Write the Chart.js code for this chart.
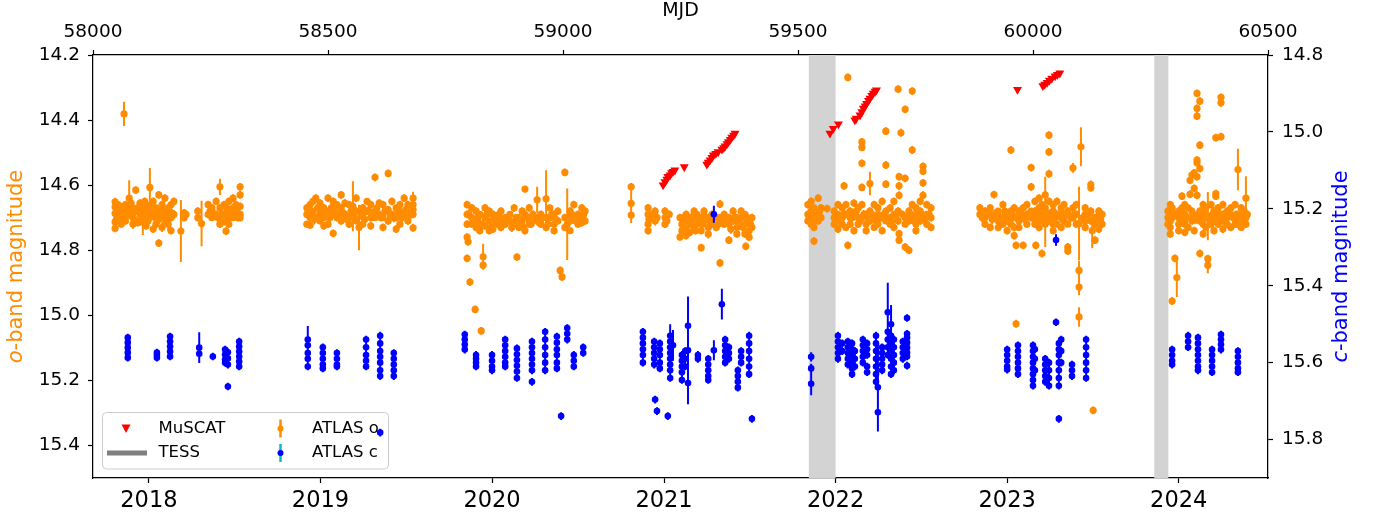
<!DOCTYPE html>
<html>
<head>
<meta charset="utf-8">
<title>ATLAS light curve</title>
<script src="https://cdn.jsdelivr.net/npm/chart.js@4.4.1/dist/chart.umd.min.js"></script>
<style>
  body { margin: 0; background: #fff; }
  .chart-box { width: 1383px; height: 521px; position: relative; }
</style>
</head>
<body>
<div class="chart-box"><canvas id="lcChart"></canvas></div>
<script>
// axis ticks
const mjdTicks = [58000, 58500, 59000, 59500, 60000, 60500];
const yearLabels = [2018, 2019, 2020, 2021, 2022, 2023, 2024];
const yearMjd = [58119, 58484, 58849, 59215, 59580, 59945, 60310];
const oTicks = [14.2, 14.4, 14.6, 14.8, 15.0, 15.2, 15.4];
const cTicks = [14.8, 15.0, 15.2, 15.4, 15.6, 15.8];

// TESS sectors (MJD)
const tessStart = [59523, 60258];
const tessEnd = [59580, 60288];

// MuSCAT points
const muscatMjd = [59213, 59217, 59221, 59223, 59228, 59231, 59234, 59238, 59258,
    59306, 59309, 59313, 59317, 59320, 59325, 59330, 59338, 59342, 59345, 59349, 59352, 59356, 59359, 59363, 59366,
    59568, 59575, 59586, 59621, 59624, 59632, 59636, 59639, 59643, 59646, 59650, 59653, 59657, 59660, 59664, 59667,
    59967, 60021, 60025, 60030, 60035, 60040, 60047, 60052, 60057];
const muscatMag = [14.600, 14.590, 14.582, 14.574, 14.569, 14.562, 14.558, 14.554, 14.544,
    14.536, 14.530, 14.523, 14.515, 14.508, 14.503, 14.498, 14.490, 14.485, 14.480, 14.473, 14.467, 14.460, 14.453, 14.447, 14.441,
    14.441, 14.426, 14.412, 14.400, 14.395, 14.385, 14.375, 14.364, 14.357, 14.349, 14.340, 14.333, 14.325, 14.318, 14.312, 14.308,
    14.306, 14.295, 14.290, 14.285, 14.278, 14.272, 14.265, 14.260, 14.256];

// ATLAS o band: [mjd, mag, err]
const oSeason1 = [
    [58047,14.651,0.012],[58047,14.667,0.010],[58047,14.687,0.012],[58047,14.713,0.015],[58047,14.733,0.012],
    [58053,14.660,0.010],[58053,14.700,0.014],[58060,14.680,0.012],[58060,14.720,0.010],
    [58066,14.381,0.037],[58072,14.676,0.012],[58072,14.694,0.015],[58077,14.640,0.055],
    [58085,14.670,0.012],[58085,14.700,0.010],[58085,14.720,0.014],[58091,14.615,0.012],[58091,14.680,0.012],
    [58100,14.655,0.012],[58100,14.690,0.010],[58100,14.710,0.015],[58106,14.665,0.012],[58106,14.713,0.040],
    [58113,14.660,0.010],[58113,14.680,0.012],[58113,14.725,0.012],
    [58121,14.607,0.060],[58121,14.680,0.012],[58121,14.700,0.010],
    [58128,14.650,0.012],[58128,14.690,0.014],[58128,14.735,0.012],
    [58134,14.670,0.010],[58134,14.700,0.012],[58134,14.720,0.012],
    [58140,14.778,0.012],[58140,14.630,0.012],[58140,14.690,0.010],
    [58147,14.660,0.012],[58147,14.700,0.012],[58147,14.730,0.014],
    [58153,14.640,0.012],[58153,14.680,0.010],[58153,14.710,0.012],
    [58160,14.670,0.012],[58160,14.720,0.020],
    [58166,14.660,0.010],[58166,14.700,0.012],[58166,14.740,0.012],
    [58172,14.650,0.012],[58172,14.690,0.014],
    [58187,14.741,0.095],[58194,14.685,0.012],[58194,14.700,0.012],[58198,14.690,0.010],
    [58223,14.680,0.012],[58223,14.700,0.012],[58231,14.718,0.070],
    [58245,14.660,0.012],[58245,14.690,0.012],
    [58253,14.670,0.012],[58253,14.700,0.010],[58253,14.680,0.012],
    [58262,14.650,0.012],[58262,14.690,0.012],
    [58270,14.605,0.025],[58270,14.670,0.012],[58270,14.700,0.010],[58270,14.720,0.012],
    [58279,14.660,0.012],[58279,14.690,0.012],[58279,14.710,0.014],[58283,14.741,0.012],
    [58289,14.650,0.012],[58289,14.680,0.010],[58289,14.700,0.012],[58289,14.720,0.012],
    [58298,14.640,0.012],[58298,14.670,0.012],[58298,14.700,0.010],
    [58304,14.660,0.012],[58304,14.690,0.012],
    [58313,14.605,0.012],[58313,14.630,0.012],[58313,14.665,0.012],[58313,14.690,0.010],[58313,14.700,0.012],
    [58050,14.675,0.012],[58050,14.705,0.015],[58057,14.665,0.012],[58057,14.690,0.010],[58063,14.700,0.016],
    [58069,14.660,0.012],[58069,14.710,0.012],[58081,14.690,0.014],[58081,14.655,0.010],[58088,14.705,0.012],
    [58095,14.670,0.015],[58095,14.715,0.012],[58103,14.680,0.010],[58110,14.695,0.016],[58110,14.650,0.012],
    [58117,14.670,0.012],[58117,14.710,0.015],[58125,14.660,0.012],[58131,14.680,0.010],[58137,14.710,0.016],
    [58144,14.680,0.012],[58150,14.700,0.015],[58157,14.690,0.012],[58163,14.680,0.014],[58169,14.690,0.012],
    [58249,14.680,0.015],[58258,14.690,0.012],[58266,14.700,0.014],[58274,14.690,0.012],[58284,14.670,0.015],
    [58293,14.690,0.012],[58301,14.680,0.016],[58308,14.700,0.012],[58308,14.670,0.012]
];
const oSeason2 = [
    [58455,14.670,0.012],[58455,14.690,0.012],[58455,14.720,0.010],
    [58462,14.660,0.012],[58462,14.700,0.012],[58462,14.723,0.012],
    [58468,14.650,0.012],[58468,14.680,0.010],[58474,14.640,0.012],[58474,14.700,0.012],
    [58483,14.655,0.012],[58483,14.685,0.012],[58483,14.710,0.010],
    [58491,14.670,0.012],[58491,14.700,0.012],[58491,14.725,0.012],
    [58500,14.640,0.012],[58500,14.680,0.010],[58500,14.720,0.012],
    [58511,14.748,0.012],[58511,14.650,0.012],[58511,14.690,0.012],
    [58519,14.660,0.010],[58519,14.700,0.012],
    [58528,14.630,0.012],[58528,14.670,0.012],[58528,14.710,0.012],
    [58536,14.655,0.012],[58536,14.690,0.010],
    [58545,14.660,0.012],[58545,14.700,0.012],[58545,14.720,0.012],
    [58553,14.665,0.077],
    [58560,14.640,0.012],[58560,14.680,0.012],[58560,14.710,0.010],
    [58566,14.730,0.070],
    [58574,14.670,0.012],[58574,14.690,0.012],[58574,14.720,0.012],
    [58583,14.650,0.010],[58583,14.680,0.012],
    [58591,14.660,0.012],[58591,14.700,0.012],[58591,14.725,0.012],
    [58600,14.576,0.012],[58600,14.680,0.012],[58600,14.700,0.010],
    [58609,14.655,0.012],[58609,14.690,0.012],
    [58617,14.660,0.012],[58617,14.700,0.010],[58617,14.730,0.012],
    [58628,14.564,0.012],[58628,14.675,0.012],[58628,14.710,0.012],
    [58636,14.650,0.012],[58636,14.690,0.012],
    [58645,14.670,0.010],[58645,14.700,0.012],[58645,14.735,0.012],
    [58653,14.660,0.012],[58653,14.680,0.012],[58653,14.720,0.010],
    [58662,14.640,0.012],[58662,14.690,0.012],
    [58670,14.660,0.012],[58670,14.700,0.012],[58670,14.710,0.012],
    [58681,14.640,0.020],[58681,14.660,0.012],[58681,14.675,0.012],[58681,14.690,0.012],[58681,14.731,0.012],
    [58458,14.680,0.015],[58465,14.690,0.012],[58471,14.705,0.016],[58478,14.670,0.012],[58487,14.700,0.014],
    [58495,14.690,0.012],[58504,14.700,0.015],[58507,14.670,0.012],[58515,14.680,0.016],[58523,14.690,0.012],
    [58532,14.685,0.014],[58540,14.705,0.012],[58549,14.680,0.015],[58556,14.700,0.012],[58570,14.690,0.016],
    [58578,14.705,0.012],[58587,14.680,0.014],[58596,14.690,0.012],[58604,14.670,0.015],[58613,14.700,0.012],
    [58621,14.680,0.016],[58632,14.690,0.012],[58640,14.700,0.014],[58649,14.680,0.012],[58657,14.700,0.015],
    [58666,14.675,0.012],[58675,14.690,0.016]
];
const oSeason3 = [
    [58796,14.660,0.012],[58796,14.690,0.012],[58796,14.720,0.012],[58796,14.760,0.012],[58796,14.825,0.012],
    [58798,14.774,0.012],[58802,14.898,0.012],[58813,14.982,0.012],[58826,15.048,0.012],
    [58830,14.820,0.040],[58830,14.846,0.012],
    [58806,14.670,0.012],[58806,14.700,0.012],[58806,14.720,0.010],
    [58815,14.680,0.012],[58815,14.710,0.012],[58815,14.730,0.012],
    [58823,14.690,0.010],[58823,14.720,0.012],[58823,14.740,0.012],
    [58834,14.670,0.012],[58834,14.700,0.012],[58834,14.725,0.012],
    [58843,14.680,0.012],[58843,14.710,0.010],[58843,14.740,0.012],
    [58851,14.690,0.012],[58851,14.720,0.012],[58851,14.735,0.012],
    [58860,14.700,0.012],[58860,14.720,0.010],
    [58868,14.680,0.012],[58868,14.710,0.012],[58868,14.730,0.012],
    [58877,14.700,0.012],[58877,14.720,0.012],
    [58887,14.690,0.010],[58887,14.710,0.012],
    [58896,14.670,0.012],[58896,14.720,0.012],[58902,14.821,0.012],
    [58906,14.700,0.012],[58906,14.730,0.010],
    [58913,14.680,0.012],[58913,14.710,0.012],
    [58919,14.612,0.010],[58919,14.690,0.012],[58919,14.740,0.012],
    [58928,14.670,0.012],[58928,14.700,0.012],[58928,14.720,0.010],
    [58936,14.690,0.012],[58936,14.710,0.012],
    [58945,14.645,0.040],[58945,14.700,0.012],
    [58953,14.690,0.012],[58953,14.720,0.012],
    [58964,14.642,0.088],[58964,14.700,0.012],[58964,14.730,0.012],
    [58972,14.670,0.010],[58972,14.700,0.012],
    [58981,14.690,0.012],[58981,14.720,0.012],[58981,14.740,0.012],
    [58989,14.680,0.012],[58989,14.710,0.010],
    [58994,14.862,0.012],[58998,14.882,0.012],
    [59004,14.561,0.012],[59004,14.700,0.012],[59004,14.730,0.012],
    [59009,14.720,0.110],
    [59015,14.680,0.012],[59015,14.710,0.012],[59015,14.740,0.010],
    [59023,14.660,0.012],[59023,14.700,0.012],
    [59032,14.690,0.012],[59032,14.720,0.012],
    [59040,14.670,0.012],[59040,14.700,0.010],[59040,14.715,0.012],
    [59047,14.680,0.012],[59047,14.710,0.012],
    [58800,14.690,0.015],[58810,14.710,0.012],[58819,14.700,0.016],[58828,14.720,0.012],[58838,14.690,0.014],
    [58847,14.730,0.012],[58855,14.705,0.015],[58864,14.690,0.012],[58872,14.720,0.016],[58882,14.705,0.012],
    [58891,14.730,0.014],[58900,14.700,0.012],[58909,14.715,0.015],[58916,14.730,0.012],[58924,14.700,0.016],
    [58932,14.720,0.012],[58940,14.700,0.014],[58949,14.715,0.012],[58957,14.700,0.015],[58968,14.720,0.012],
    [58976,14.690,0.016],[58985,14.705,0.012],[59011,14.700,0.014],[59019,14.690,0.012],[59027,14.710,0.015],
    [59036,14.700,0.012],[59044,14.690,0.016]
];
const oSeason4 = [
    [59145,14.605,0.012],[59145,14.656,0.060],[59145,14.692,0.012],
    [59181,14.670,0.012],[59181,14.690,0.010],[59181,14.720,0.012],[59181,14.740,0.012],
    [59185,14.700,0.012],[59196,14.680,0.012],[59196,14.710,0.014],
    [59217,14.680,0.012],[59217,14.700,0.010],[59217,14.720,0.012],[59226,14.690,0.012],
    [59249,14.759,0.012],[59249,14.700,0.012],[59253,14.720,0.012],[59253,14.740,0.010],
    [59262,14.690,0.012],[59262,14.710,0.012],[59262,14.730,0.014],[59262,14.755,0.012],
    [59270,14.700,0.012],[59270,14.720,0.010],[59270,14.745,0.012],
    [59279,14.680,0.012],[59279,14.710,0.012],[59279,14.730,0.012],
    [59285,14.690,0.010],[59285,14.720,0.012],
    [59294,14.792,0.012],[59294,14.700,0.012],[59294,14.740,0.012],
    [59300,14.680,0.012],[59300,14.710,0.010],
    [59309,14.700,0.012],[59309,14.730,0.012],[59309,14.750,0.014],
    [59317,14.690,0.012],[59317,14.720,0.012],
    [59326,14.700,0.010],[59326,14.730,0.012],
    [59334,14.658,0.012],[59334,14.839,0.012],[59334,14.700,0.012],
    [59343,14.690,0.012],[59343,14.720,0.010],
    [59353,14.769,0.012],[59353,14.700,0.012],[59353,14.720,0.012],
    [59362,14.680,0.012],[59362,14.710,0.012],
    [59370,14.700,0.012],[59370,14.730,0.010],[59370,14.750,0.012],
    [59379,14.680,0.012],[59379,14.700,0.012],
    [59387,14.720,0.012],[59387,14.750,0.012],[59387,14.690,0.010],[59389,14.788,0.012],
    [59396,14.710,0.012],[59396,14.740,0.012],[59396,14.760,0.012],
    [59402,14.700,0.012],[59402,14.730,0.010],
    [59183,14.705,0.015],[59190,14.690,0.012],[59200,14.700,0.016],[59221,14.710,0.012],[59257,14.700,0.014],
    [59266,14.720,0.012],[59274,14.700,0.015],[59282,14.740,0.012],[59289,14.710,0.016],[59297,14.720,0.012],
    [59304,14.700,0.014],[59313,14.710,0.012],[59321,14.700,0.015],[59330,14.720,0.012],[59338,14.710,0.016],
    [59347,14.700,0.012],[59357,14.735,0.014],[59366,14.700,0.012],[59374,14.715,0.015],[59383,14.730,0.012],
    [59392,14.700,0.016],[59399,14.720,0.012]
];
const oSeason5 = [
    [59521,14.660,0.012],[59521,14.690,0.012],[59521,14.710,0.010],
    [59528,14.650,0.012],[59528,14.680,0.012],[59528,14.700,0.012],[59528,14.720,0.012],
    [59534,14.772,0.012],[59534,14.670,0.010],[59534,14.730,0.012],
    [59543,14.640,0.012],[59543,14.690,0.012],[59543,14.710,0.012],
    [59549,14.670,0.012],[59549,14.700,0.010],[59562,14.672,0.012],
    [59577,14.680,0.012],[59577,14.700,0.012],[59577,14.720,0.012],
    [59585,14.660,0.012],[59585,14.690,0.010],[59585,14.710,0.012],[59585,14.735,0.012],
    [59594,14.670,0.012],[59594,14.700,0.012],[59594,14.720,0.012],[59598,14.602,0.012],
    [59602,14.660,0.012],[59602,14.690,0.012],[59602,14.730,0.010],
    [59606,14.269,0.012],[59606,14.785,0.012],
    [59611,14.680,0.012],[59611,14.700,0.012],[59611,14.720,0.012],
    [59619,14.655,0.012],[59619,14.690,0.010],[59619,14.740,0.012],
    [59628,14.670,0.012],[59628,14.700,0.012],[59628,14.720,0.012],
    [59636,14.467,0.012],[59636,14.484,0.012],[59636,14.533,0.012],[59636,14.607,0.012],[59636,14.660,0.012],[59636,14.700,0.010],
    [59645,14.690,0.012],[59645,14.720,0.012],[59645,14.740,0.012],
    [59653,14.595,0.036],[59653,14.680,0.012],[59653,14.710,0.012],
    [59662,14.660,0.012],[59662,14.700,0.012],[59662,14.730,0.010],
    [59670,14.670,0.012],[59670,14.690,0.012],[59670,14.720,0.012],
    [59679,14.650,0.012],[59679,14.700,0.012],[59679,14.740,0.012],
    [59687,14.434,0.012],[59687,14.538,0.012],[59687,14.597,0.012],[59687,14.680,0.012],[59687,14.710,0.010],
    [59696,14.670,0.012],[59696,14.700,0.012],[59696,14.720,0.012],
    [59704,14.650,0.012],[59704,14.690,0.010],[59704,14.730,0.012],
    [59713,14.305,0.012],[59713,14.680,0.012],[59713,14.710,0.012],
    [59715,14.574,0.012],[59715,14.602,0.012],[59715,14.631,0.012],[59715,14.749,0.012],[59715,14.769,0.012],
    [59719,14.439,0.012],
    [59728,14.367,0.012],[59728,14.579,0.012],[59728,14.790,0.012],[59728,14.700,0.012],[59728,14.720,0.010],
    [59736,14.800,0.012],[59736,14.680,0.012],[59736,14.710,0.012],
    [59743,14.311,0.012],[59743,14.492,0.012],[59743,14.660,0.012],[59743,14.700,0.012],
    [59751,14.670,0.012],[59751,14.690,0.012],[59751,14.720,0.010],[59751,14.740,0.012],
    [59760,14.650,0.012],[59760,14.680,0.012],[59760,14.710,0.012],
    [59766,14.542,0.012],[59766,14.557,0.012],[59766,14.593,0.012],[59766,14.631,0.012],[59766,14.700,0.012],
    [59774,14.660,0.012],[59774,14.690,0.010],[59774,14.720,0.012],
    [59783,14.670,0.012],[59783,14.700,0.012],[59783,14.730,0.012],
    [59524,14.700,0.015],[59531,14.690,0.012],[59538,14.705,0.016],[59546,14.680,0.012],[59581,14.690,0.014],
    [59589,14.705,0.012],[59598,14.690,0.015],[59615,14.700,0.012],[59624,14.680,0.016],[59632,14.710,0.012],
    [59640,14.690,0.014],[59649,14.705,0.012],[59657,14.690,0.015],[59666,14.710,0.012],[59674,14.700,0.016],
    [59683,14.690,0.012],[59692,14.705,0.014],[59700,14.710,0.012],[59708,14.690,0.015],[59722,14.690,0.012],
    [59732,14.700,0.016],[59740,14.690,0.012],[59747,14.710,0.014],[59756,14.700,0.012],[59763,14.690,0.015],
    [59770,14.705,0.012],[59779,14.690,0.016]
];
const oSeason6 = [
    [59887,14.670,0.012],[59887,14.690,0.012],
    [59898,14.680,0.012],[59898,14.700,0.010],[59898,14.720,0.012],
    [59909,14.670,0.012],[59909,14.690,0.012],[59909,14.730,0.012],
    [59917,14.629,0.012],[59917,14.700,0.012],
    [59926,14.680,0.010],[59926,14.710,0.012],[59926,14.730,0.012],
    [59936,14.660,0.012],[59936,14.700,0.012],[59936,14.720,0.010],
    [59945,14.690,0.012],[59945,14.710,0.012],[59945,14.740,0.012],
    [59953,14.492,0.012],[59953,14.680,0.012],[59953,14.720,0.012],
    [59960,14.670,0.012],[59960,14.700,0.010],[59960,14.730,0.012],[59960,14.755,0.012],
    [59964,15.026,0.012],[59964,14.785,0.012],
    [59970,14.680,0.012],[59970,14.710,0.012],[59970,14.730,0.010],
    [59979,14.785,0.012],[59979,14.670,0.012],[59979,14.700,0.012],
    [59987,14.660,0.012],[59987,14.690,0.012],[59987,14.720,0.012],
    [59996,14.546,0.012],[59996,14.605,0.012],[59996,14.680,0.010],[59996,14.700,0.012],
    [60004,14.650,0.012],[60004,14.680,0.012],[60004,14.700,0.012],[60004,14.720,0.012],
    [60006,14.785,0.012],
    [60013,14.640,0.012],[60013,14.670,0.010],[60013,14.690,0.012],[60013,14.710,0.012],[60013,14.730,0.012],
    [60019,14.810,0.012],[60019,14.660,0.012],[60019,14.700,0.012],
    [60026,14.682,0.108],[60026,14.630,0.012],[60026,14.670,0.012],[60026,14.720,0.012],
    [60034,14.446,0.012],[60034,14.498,0.012],[60034,14.565,0.012],[60034,14.650,0.012],[60034,14.690,0.010],[60034,14.710,0.012],
    [60043,14.660,0.012],[60043,14.680,0.012],[60043,14.700,0.012],[60043,14.720,0.012],[60043,14.740,0.012],
    [60051,14.650,0.012],[60051,14.690,0.012],[60051,14.720,0.010],
    [60060,14.670,0.012],[60060,14.700,0.012],[60060,14.730,0.012],
    [60066,14.660,0.012],[60066,14.690,0.012],[60066,14.710,0.012],
    [60074,14.790,0.012],[60074,14.802,0.012],[60074,14.680,0.012],[60074,14.720,0.010],
    [60085,14.547,0.015],[60085,14.670,0.012],[60085,14.700,0.012],
    [60092,14.660,0.012],[60092,14.690,0.012],[60092,14.720,0.012],
    [60098,14.718,0.113],[60098,14.862,0.030],[60098,14.913,0.025],[60098,15.005,0.030],
    [60102,14.482,0.060],
    [60111,14.670,0.012],[60111,14.690,0.012],[60111,14.710,0.010],[60111,14.730,0.012],
    [60123,14.598,0.012],[60123,14.608,0.012],[60123,14.680,0.012],[60123,14.710,0.012],
    [60126,14.740,0.054],[60128,15.292,0.012],
    [60132,14.769,0.012],[60132,14.700,0.012],[60132,14.720,0.012],
    [60140,14.680,0.012],[60140,14.710,0.010],[60140,14.735,0.012],
    [60147,14.690,0.012],[60147,14.720,0.012],
    [59892,14.700,0.015],[59903,14.690,0.012],[59913,14.705,0.016],[59921,14.685,0.012],[59931,14.700,0.014],
    [59940,14.680,0.012],[59949,14.705,0.015],[59956,14.690,0.012],[59966,14.700,0.016],[59975,14.690,0.012],
    [59983,14.705,0.014],[59991,14.690,0.012],[60000,14.700,0.015],[60009,14.690,0.012],[60016,14.705,0.016],
    [60023,14.690,0.012],[60030,14.700,0.014],[60038,14.685,0.012],[60047,14.700,0.015],[60055,14.690,0.012],
    [60063,14.705,0.016],[60070,14.690,0.012],[60080,14.700,0.014],[60088,14.690,0.012],[60106,14.700,0.015],
    [60117,14.690,0.012],[60136,14.700,0.016],[60144,14.705,0.012]
];
const oSeason7 = [
    [60287,14.680,0.012],[60287,14.700,0.012],[60287,14.720,0.012],
    [60292,14.660,0.012],[60292,14.690,0.010],[60292,14.710,0.012],[60292,14.730,0.012],[60292,14.750,0.012],
    [60296,14.956,0.012],[60296,14.670,0.012],[60296,14.700,0.012],
    [60302,14.825,0.012],[60306,14.884,0.060],
    [60310,14.680,0.012],[60310,14.700,0.012],[60310,14.720,0.010],[60310,14.740,0.012],
    [60317,14.634,0.012],[60317,14.670,0.012],[60317,14.710,0.012],
    [60323,14.660,0.012],[60323,14.690,0.012],[60323,14.720,0.012],[60323,14.745,0.012],
    [60330,14.670,0.010],[60330,14.700,0.012],[60330,14.730,0.012],
    [60334,14.585,0.012],[60334,14.628,0.012],
    [60338,14.569,0.012],[60338,14.680,0.012],[60338,14.710,0.012],
    [60343,14.562,0.012],[60343,14.610,0.012],[60343,14.700,0.012],[60343,14.740,0.012],
    [60349,14.318,0.012],[60349,14.364,0.012],[60349,14.388,0.012],[60349,14.523,0.012],[60349,14.531,0.012],[60349,14.574,0.012],[60349,14.631,0.012],
    [60355,14.342,0.012],[60355,14.477,0.012],[60355,14.549,0.012],[60355,14.810,0.012],[60355,14.680,0.012],[60355,14.710,0.012],
    [60362,14.660,0.012],[60362,14.690,0.012],[60362,14.720,0.010],[60362,14.750,0.012],
    [60368,14.670,0.012],[60368,14.700,0.012],[60368,14.730,0.012],
    [60372,14.846,0.025],[60372,14.826,0.012],[60372,14.695,0.074],
    [60379,14.660,0.012],[60379,14.700,0.012],[60379,14.720,0.012],
    [60385,14.680,0.012],[60385,14.710,0.010],[60385,14.740,0.012],
    [60389,14.454,0.012],[60389,14.626,0.012],[60389,14.634,0.012],
    [60394,14.670,0.012],[60394,14.700,0.012],[60394,14.720,0.012],
    [60400,14.330,0.012],[60400,14.347,0.012],[60400,14.451,0.012],
    [60404,14.660,0.012],[60404,14.690,0.012],[60404,14.710,0.012],[60404,14.735,0.012],
    [60413,14.680,0.012],[60413,14.700,0.010],[60413,14.720,0.012],
    [60421,14.670,0.012],[60421,14.690,0.012],[60421,14.730,0.012],
    [60430,14.660,0.012],[60430,14.700,0.012],[60430,14.720,0.012],
    [60436,14.552,0.064],[60436,14.690,0.012],[60436,14.720,0.012],
    [60443,14.670,0.012],[60443,14.700,0.012],[60443,14.730,0.010],
    [60449,14.680,0.012],[60449,14.710,0.012],
    [60453,14.640,0.067],[60453,14.700,0.012],[60453,14.720,0.012],
    [60289,14.700,0.015],[60299,14.690,0.012],[60313,14.705,0.016],[60320,14.690,0.012],[60327,14.700,0.014],
    [60341,14.690,0.012],[60346,14.705,0.015],[60352,14.690,0.012],[60358,14.700,0.016],[60365,14.690,0.012],
    [60375,14.705,0.014],[60382,14.690,0.012],[60391,14.700,0.015],[60397,14.690,0.012],[60408,14.705,0.016],
    [60417,14.690,0.012],[60426,14.700,0.014],[60433,14.690,0.012],[60440,14.705,0.015],[60446,14.690,0.012],
    [60451,14.700,0.016],[60456,14.690,0.012]
];

// ATLAS c band: [mjd, mag, err]
const cSeason1 = [
    [58074,15.535,0.010],[58074,15.548,0.010],[58074,15.561,0.010],[58074,15.574,0.010],[58074,15.587,0.010],
    [58136,15.574,0.010],[58136,15.580,0.010],[58136,15.587,0.010],
    [58164,15.532,0.010],[58164,15.545,0.010],[58164,15.558,0.010],[58164,15.571,0.010],[58164,15.584,0.010],
    [58226,15.561,0.040],[58226,15.577,0.010],[58255,15.584,0.010],
    [58281,15.566,0.010],[58281,15.579,0.010],[58281,15.592,0.010],[58281,15.600,0.010],
    [58287,15.573,0.010],[58287,15.589,0.010],[58287,15.605,0.010],[58287,15.662,0.010],
    [58311,15.545,0.010],[58311,15.558,0.010],[58311,15.571,0.010],[58311,15.584,0.010],[58311,15.597,0.010],[58311,15.610,0.010]
];
const cSeason2 = [
    [58457,15.540,0.010],[58457,15.555,0.050],[58457,15.575,0.010],[58457,15.590,0.010],[58457,15.610,0.010],
    [58489,15.560,0.010],[58489,15.575,0.010],[58489,15.590,0.010],[58489,15.605,0.010],[58489,15.615,0.010],
    [58519,15.575,0.010],[58519,15.590,0.010],[58519,15.605,0.010],[58519,15.610,0.010],
    [58581,15.540,0.010],[58581,15.560,0.010],[58581,15.580,0.010],[58581,15.595,0.010],[58581,15.610,0.010],
    [58611,15.530,0.010],[58611,15.550,0.010],[58611,15.570,0.010],[58611,15.585,0.010],[58611,15.600,0.010],[58611,15.620,0.010],[58611,15.635,0.010],[58611,15.782,0.010],
    [58640,15.575,0.010],[58640,15.590,0.010],[58640,15.605,0.010],[58640,15.620,0.010],[58640,15.635,0.010]
];
const cSeason3 = [
    [58791,15.527,0.010],[58791,15.540,0.010],[58791,15.553,0.010],[58791,15.566,0.010],
    [58815,15.580,0.010],[58815,15.590,0.010],[58815,15.600,0.010],[58815,15.610,0.010],
    [58849,15.580,0.010],[58849,15.595,0.010],[58849,15.610,0.010],[58849,15.620,0.010],
    [58877,15.540,0.010],[58877,15.555,0.010],[58877,15.570,0.010],[58877,15.585,0.010],[58877,15.600,0.010],[58877,15.610,0.010],
    [58902,15.563,0.010],[58902,15.578,0.010],[58902,15.593,0.010],[58902,15.608,0.010],[58902,15.623,0.010],[58902,15.640,0.010],
    [58934,15.545,0.010],[58934,15.560,0.010],[58934,15.575,0.010],[58934,15.590,0.010],[58934,15.605,0.010],[58934,15.620,0.010],[58934,15.650,0.010],
    [58962,15.520,0.010],[58962,15.540,0.010],[58962,15.560,0.010],[58962,15.580,0.010],[58962,15.600,0.010],[58962,15.620,0.010],
    [58987,15.532,0.010],[58987,15.548,0.010],[58987,15.565,0.010],[58987,15.580,0.010],[58987,15.600,0.010],[58987,15.615,0.010],
    [58996,15.739,0.010],
    [59009,15.510,0.010],[59009,15.525,0.010],[59009,15.540,0.010],
    [59023,15.580,0.010],[59023,15.595,0.010],[59023,15.610,0.010],
    [59043,15.560,0.010],[59043,15.575,0.010]
];
const cSeason4 = [
    [59170,15.520,0.010],[59170,15.535,0.010],[59170,15.550,0.010],[59170,15.565,0.010],[59170,15.580,0.010],[59170,15.600,0.010],
    [59194,15.545,0.010],[59194,15.560,0.010],[59194,15.575,0.010],[59194,15.590,0.010],[59194,15.605,0.010],
    [59196,15.696,0.010],[59200,15.726,0.010],
    [59206,15.550,0.010],[59206,15.565,0.010],[59206,15.580,0.010],[59206,15.600,0.010],[59206,15.615,0.010],
    [59223,15.739,0.010],
    [59228,15.530,0.030],[59228,15.545,0.010],[59228,15.560,0.010],[59228,15.575,0.010],[59228,15.590,0.010],[59228,15.605,0.010],[59228,15.620,0.010],[59228,15.640,0.010],
    [59234,15.555,0.040],
    [59253,15.580,0.010],[59253,15.595,0.010],[59253,15.610,0.010],[59253,15.625,0.010],[59253,15.645,0.010],
    [59260,15.570,0.010],[59260,15.590,0.010],[59260,15.610,0.010],
    [59266,15.568,0.140],[59266,15.504,0.010],[59266,15.653,0.010],
    [59287,15.580,0.010],[59287,15.590,0.010],
    [59309,15.590,0.010],[59309,15.605,0.010],[59309,15.620,0.010],[59309,15.635,0.010],[59309,15.645,0.010],
    [59321,15.214,0.022],[59321,15.568,0.026],[59338,15.448,0.040],
    [59345,15.540,0.010],[59345,15.555,0.010],[59345,15.570,0.010],[59345,15.585,0.010],[59345,15.600,0.010],
    [59353,15.560,0.010],[59353,15.575,0.010],[59353,15.590,0.010],
    [59372,15.620,0.010],[59372,15.635,0.010],[59372,15.650,0.010],[59372,15.665,0.010],
    [59379,15.570,0.010],[59379,15.585,0.010],[59379,15.600,0.010],
    [59396,15.530,0.010],[59396,15.550,0.010],[59396,15.570,0.010],[59396,15.590,0.010],[59396,15.610,0.010],[59396,15.630,0.010],
    [59402,15.746,0.010]
];
const cSeason5 = [
    [59528,15.585,0.012],[59528,15.615,0.012],[59528,15.655,0.030],
    [59585,15.530,0.010],[59585,15.545,0.010],[59585,15.560,0.010],[59585,15.575,0.010],[59585,15.590,0.010],
    [59594,15.550,0.010],[59594,15.570,0.010],
    [59606,15.545,0.010],[59606,15.560,0.010],[59606,15.575,0.010],[59606,15.590,0.010],[59606,15.605,0.010],
    [59615,15.550,0.010],[59615,15.565,0.010],[59615,15.580,0.010],[59615,15.600,0.010],[59615,15.615,0.010],[59615,15.630,0.010],
    [59621,15.570,0.010],[59621,15.590,0.010],[59621,15.610,0.010],
    [59638,15.540,0.010],[59638,15.555,0.010],[59638,15.570,0.010],[59638,15.585,0.010],[59638,15.600,0.010],
    [59647,15.550,0.010],[59647,15.565,0.010],[59647,15.580,0.010],[59647,15.610,0.010],[59647,15.625,0.010],
    [59666,15.530,0.010],[59666,15.550,0.010],[59666,15.570,0.010],[59666,15.590,0.010],[59666,15.610,0.010],[59666,15.630,0.010],[59666,15.650,0.010],
    [59670,15.664,0.115],[59670,15.729,0.010],
    [59679,15.560,0.010],[59679,15.575,0.010],[59679,15.590,0.010],[59679,15.605,0.010],[59679,15.620,0.010],
    [59691,15.469,0.077],[59691,15.520,0.010],[59691,15.540,0.010],[59691,15.560,0.010],[59691,15.580,0.010],
    [59698,15.500,0.050],[59698,15.530,0.010],[59698,15.550,0.010],[59698,15.570,0.010],[59698,15.590,0.010],[59698,15.610,0.010],[59698,15.630,0.010],
    [59704,15.540,0.010],[59704,15.560,0.010],[59704,15.580,0.010],[59704,15.600,0.010],[59704,15.620,0.010],
    [59723,15.545,0.010],[59723,15.560,0.010],[59723,15.575,0.010],[59723,15.590,0.010],
    [59732,15.484,0.010],[59732,15.525,0.010],[59732,15.535,0.010],[59732,15.548,0.010],[59732,15.561,0.010],[59732,15.574,0.010],[59732,15.584,0.010],[59732,15.608,0.010]
];
const cSeason6 = [
    [59945,15.566,0.010],[59945,15.580,0.010],[59945,15.595,0.010],[59945,15.610,0.010],[59945,15.618,0.010],
    [59968,15.555,0.010],[59968,15.570,0.010],[59968,15.585,0.010],[59968,15.600,0.010],[59968,15.615,0.010],[59968,15.630,0.010],
    [60000,15.555,0.010],[60000,15.570,0.010],[60000,15.585,0.010],[60000,15.600,0.010],[60000,15.615,0.010],[60000,15.630,0.010],[60000,15.645,0.010],[60000,15.660,0.010],
    [60004,15.565,0.010],[60004,15.590,0.010],[60004,15.620,0.010],
    [60026,15.590,0.010],[60026,15.605,0.010],[60026,15.620,0.010],[60026,15.635,0.010],[60026,15.650,0.010],
    [60034,15.600,0.010],[60034,15.620,0.010],[60034,15.640,0.010],[60034,15.660,0.010],
    [60049,15.281,0.015],[60049,15.495,0.010],
    [60055,15.550,0.010],[60055,15.565,0.010],[60055,15.580,0.010],[60055,15.600,0.010],[60055,15.620,0.010],[60055,15.640,0.010],[60055,15.660,0.010],[60055,15.746,0.010],
    [60060,15.540,0.010],[60060,15.570,0.010],[60060,15.600,0.010],
    [60083,15.605,0.010],[60083,15.620,0.010],[60083,15.635,0.010],
    [60113,15.540,0.010],[60113,15.560,0.010],[60113,15.580,0.010],[60113,15.600,0.010],[60113,15.620,0.010],[60113,15.640,0.010]
];
const cSeason7 = [
    [60296,15.566,0.010],[60296,15.580,0.010],[60296,15.595,0.010],[60296,15.605,0.010],
    [60330,15.530,0.010],[60330,15.545,0.010],[60330,15.560,0.010],
    [60351,15.535,0.010],[60351,15.550,0.010],[60351,15.565,0.010],[60351,15.580,0.010],[60351,15.595,0.010],[60351,15.610,0.010],[60351,15.620,0.010],
    [60381,15.566,0.010],[60381,15.580,0.010],[60381,15.595,0.010],[60381,15.610,0.010],[60381,15.625,0.010],
    [60400,15.527,0.010],[60400,15.540,0.010],[60400,15.553,0.010],[60400,15.566,0.010],
    [60436,15.570,0.010],[60436,15.585,0.010],[60436,15.600,0.010],[60436,15.615,0.010],[60436,15.625,0.010]
];

const ORANGE = '#ff8c00';
const BLUE = '#0000ff';
const FONT = "'DejaVu Sans', 'Liberation Sans', sans-serif";

function toPoints(seasons) {
    const pts = [];
    seasons.forEach(s => s.forEach(p => pts.push({ x: p[0], y: p[1], err: p[2] })));
    return pts;
}

const oPoints = toPoints([oSeason1, oSeason2, oSeason3, oSeason4, oSeason5, oSeason6, oSeason7]);
const cPoints = toPoints([cSeason1, cSeason2, cSeason3, cSeason4, cSeason5, cSeason6, cSeason7]);
const muscatPoints = muscatMjd.map((m, i) => ({ x: m, y: muscatMag[i] }));

// grey TESS bands + legend box, drawn under all the points
const bandsAndLegend = {
    id: 'bandsAndLegend',
    beforeDatasetsDraw(chart) {
        const ctx = chart.ctx;
        const area = chart.chartArea;
        const xs = chart.scales.x;
        ctx.save();
        ctx.fillStyle = '#d3d3d3';
        for (let i = 0; i < tessStart.length; i++) {
            const x0 = xs.getPixelForValue(tessStart[i]);
            const x1 = xs.getPixelForValue(tessEnd[i]);
            ctx.fillRect(x0, area.top, x1 - x0, area.bottom - area.top);
        }

        // legend
        const lx = area.left + 9.5, ly = area.bottom - 65.5, lw = 286, lh = 56.5;
        ctx.beginPath();
        ctx.roundRect(lx, ly, lw, lh, 4);
        ctx.fillStyle = 'rgba(255,255,255,0.8)';
        ctx.fill();
        ctx.strokeStyle = '#cccccc';
        ctx.lineWidth = 1;
        ctx.stroke();

        const row1 = ly + 16, row2 = ly + 40.5;
        // MuSCAT triangle
        const tx = lx + 23.5;
        ctx.beginPath();
        ctx.moveTo(tx - 4.5, row1 - 4);
        ctx.lineTo(tx + 4.5, row1 - 4);
        ctx.lineTo(tx, row1 + 4.5);
        ctx.closePath();
        ctx.fillStyle = 'red';
        ctx.fill();
        // TESS line
        ctx.beginPath();
        ctx.moveTo(lx + 4.5, row2);
        ctx.lineTo(lx + 44.5, row2);
        ctx.strokeStyle = '#808080';
        ctx.lineWidth = 5;
        ctx.stroke();
        // ATLAS o / c error bar markers
        const ex = lx + 178;
        ctx.lineWidth = 2.5;
        ctx.strokeStyle = ORANGE;
        ctx.beginPath(); ctx.moveTo(ex, row1 - 9); ctx.lineTo(ex, row1 + 9); ctx.stroke();
        ctx.fillStyle = ORANGE;
        ctx.beginPath(); ctx.arc(ex, row1, 3, 0, Math.PI * 2); ctx.fill();
        ctx.strokeStyle = '#00bfbf';
        ctx.beginPath(); ctx.moveTo(ex, row2 - 9); ctx.lineTo(ex, row2 + 9); ctx.stroke();
        ctx.fillStyle = BLUE;
        ctx.beginPath(); ctx.arc(ex, row2, 3, 0, Math.PI * 2); ctx.fill();

        ctx.fillStyle = '#000';
        ctx.font = '16.5px ' + FONT;
        ctx.textBaseline = 'middle';
        ctx.textAlign = 'left';
        ctx.fillText('MuSCAT', lx + 56, row1);
        ctx.fillText('TESS', lx + 56, row2);
        ctx.fillText('ATLAS o', lx + 209.5, row1);
        ctx.fillText('ATLAS c', lx + 209.5, row2);
        ctx.restore();
    }
};

// vertical error bars, drawn just before each dataset's markers
const errorBars = {
    id: 'errorBars',
    beforeDatasetDraw(chart, args) {
        const ds = chart.data.datasets[args.index];
        if (!ds.errColor) return;
        const ctx = chart.ctx;
        const ys = chart.scales[ds.yAxisID];
        const area = chart.chartArea;
        ctx.save();
        ctx.beginPath();
        ctx.rect(area.left, area.top, area.right - area.left, area.bottom - area.top);
        ctx.clip();
        ctx.strokeStyle = ds.errColor;
        ctx.lineWidth = 2;
        ctx.beginPath();
        args.meta.data.forEach((el, i) => {
            const p = ds.data[i];
            ctx.moveTo(el.x, ys.getPixelForValue(p.y - p.err));
            ctx.lineTo(el.x, ys.getPixelForValue(p.y + p.err));
        });
        ctx.stroke();
        ctx.restore();
    }
};

// axis titles (left/right read bottom to top, with italic band letter)
function drawRotatedTitle(ctx, x, y, letter, rest, color) {
    ctx.save();
    ctx.translate(x, y);
    ctx.rotate(-Math.PI / 2);
    ctx.fillStyle = color;
    ctx.textBaseline = 'middle';
    ctx.textAlign = 'left';
    ctx.font = 'italic 21px ' + FONT;
    const w1 = ctx.measureText(letter).width;
    ctx.font = '21px ' + FONT;
    const w2 = ctx.measureText(rest).width;
    const start = -(w1 + w2) / 2;
    ctx.font = 'italic 21px ' + FONT;
    ctx.fillText(letter, start, 0);
    ctx.font = '21px ' + FONT;
    ctx.fillText(rest, start + w1, 0);
    ctx.restore();
}

const axisTitles = {
    id: 'axisTitles',
    afterDraw(chart) {
        const ctx = chart.ctx;
        const area = chart.chartArea;
        const midY = (area.top + area.bottom) / 2;
        ctx.save();
        ctx.fillStyle = '#000';
        ctx.font = '19px ' + FONT;
        ctx.textAlign = 'center';
        ctx.textBaseline = 'alphabetic';
        ctx.fillText('MJD', (area.left + area.right) / 2, 16);
        ctx.restore();
        drawRotatedTitle(ctx, 17, midY, 'o', '-band magnitude', ORANGE);
        drawRotatedTitle(ctx, 1342, midY, 'c', '-band magnitude', BLUE);
    }
};

function tickGrid() {
    return { display: true, drawOnChartArea: false, drawTicks: true, tickLength: 5, tickColor: '#000', tickWidth: 1.2 };
}
const axisBorder = { display: true, color: '#000', width: 1.25 };

const ctx = document.getElementById('lcChart').getContext('2d');
const lcChart = new Chart(ctx, {
    type: 'scatter',
    data: {
        datasets: [
            {
                label: 'MuSCAT',
                data: muscatPoints,
                xAxisID: 'x', yAxisID: 'y',
                pointStyle: 'triangle', rotation: 180,
                pointRadius: 5.2, pointBackgroundColor: 'red', pointBorderWidth: 0,
                order: 0
            },
            {
                label: 'ATLAS c',
                data: cPoints,
                xAxisID: 'x', yAxisID: 'y2',
                pointRadius: 3.3, pointBackgroundColor: BLUE, pointBorderWidth: 0,
                errColor: BLUE,
                order: 1
            },
            {
                label: 'ATLAS o',
                data: oPoints,
                xAxisID: 'x', yAxisID: 'y',
                pointRadius: 3.6, pointBackgroundColor: ORANGE, pointBorderWidth: 0,
                errColor: ORANGE,
                order: 2
            }
        ]
    },
    options: {
        responsive: true,
        maintainAspectRatio: false,
        animation: false,
        devicePixelRatio: 1,
        events: [],
        layout: { padding: 0 },
        plugins: { legend: { display: false }, tooltip: { enabled: false } },
        scales: {
            x: {
                type: 'linear', position: 'bottom', min: 58000, max: 60500,
                afterFit: s => { s.height = 43; },
                afterBuildTicks: s => { s.ticks = yearMjd.map(v => ({ value: v })); },
                ticks: {
                    autoSkip: false, maxRotation: 0, padding: 4.5, color: '#000',
                    font: { family: FONT, size: 22.5 },
                    callback: v => String(yearLabels[yearMjd.indexOf(v)])
                },
                grid: tickGrid(), border: axisBorder
            },
            x2: {
                type: 'linear', position: 'top', min: 58000, max: 60500,
                afterFit: s => { s.height = 55; },
                afterBuildTicks: s => { s.ticks = mjdTicks.map(v => ({ value: v })); },
                ticks: {
                    autoSkip: false, maxRotation: 0, padding: 7, color: '#000',
                    font: { family: FONT, size: 18.5 },
                    callback: v => String(v)
                },
                grid: tickGrid(), border: axisBorder
            },
            y: {
                type: 'linear', position: 'left', reverse: true, min: 14.2, max: 15.5,
                afterFit: s => { s.width = 93; },
                afterBuildTicks: s => { s.ticks = oTicks.map(v => ({ value: v })); },
                ticks: {
                    autoSkip: false, padding: 8, color: '#000',
                    font: { family: FONT, size: 18.5 },
                    callback: v => v.toFixed(1)
                },
                grid: tickGrid(), border: axisBorder
            },
            y2: {
                type: 'linear', position: 'right', reverse: true, min: 14.8, max: 15.9,
                afterFit: s => { s.width = 115; },
                afterBuildTicks: s => { s.ticks = cTicks.map(v => ({ value: v })); },
                ticks: {
                    autoSkip: false, padding: 9, color: '#000',
                    font: { family: FONT, size: 18.5 },
                    callback: v => v.toFixed(1)
                },
                grid: tickGrid(), border: axisBorder
            }
        }
    },
    plugins: [bandsAndLegend, errorBars, axisTitles]
});
</script>
</body>
</html>
